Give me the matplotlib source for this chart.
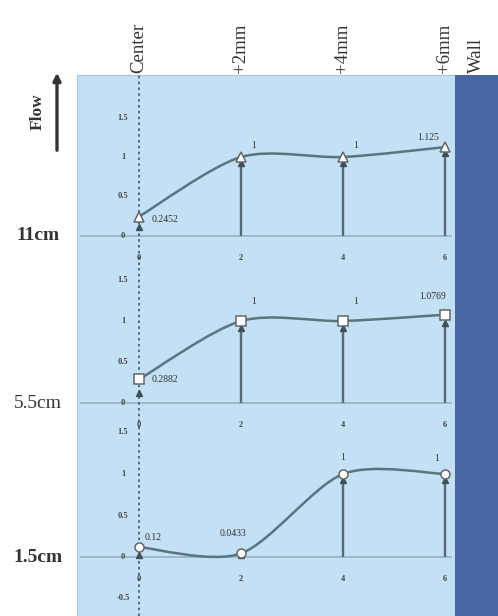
"""Normalised flow profiles across the channel at three heights."""

import matplotlib.pyplot as plt
from matplotlib.patches import Rectangle, PathPatch
from matplotlib.path import Path

# ─── data ───────────────────────────────────────────────────────────
positions = [0, 2, 4, 6]
pos_ticks = ["0", "2", "4", "6"]
top_labels = ["Center", "+2mm", "+4mm", "+6mm"]

heights = ["11cm", "5.5cm", "1.5cm"]
flow_11 = [0.2452, 1, 1, 1.125]
flow_55 = [0.2882, 1, 1, 1.0769]
flow_15 = [0.12, 0.0433, 1, 1]
flow_labels_11 = ["0.2452", "1", "1", "1.125"]
flow_labels_55 = ["0.2882", "1", "1", "1.0769"]
flow_labels_15 = ["0.12", "0.0433", "1", "1"]
# second (reference) series, drawn as dark markers
ref_11 = [0.12, 0.93, 0.93, 1.05]
ref_55 = [0.12, 0.92, 0.92, 0.97]
ref_15 = [0.02, 0.02, 0.93, 0.93]
y_ticks_upper = [0, 0.5, 1, 1.5]
y_ticks_lower = [-0.5, 0, 0.5, 1, 1.5]

# ─── style ──────────────────────────────────────────────────────────
W, H = 498, 616
PANEL_BG = "#c3e0f4"
WALL = "#4766a4"
CURVE = "#5b747f"
STEM = "#566a76"
DARK = "#3f4f58"
ZERO = "#98b2c3"
SERIF = "Liberation Serif"

plt.rcParams["font.family"] = SERIF


def smooth_path(xs, ys):
    """Catmull-Rom style cubic Bezier path through the points."""
    pts = list(zip(xs, ys))
    verts, codes = [pts[0]], [Path.MOVETO]
    n = len(pts)
    for i in range(n - 1):
        p0 = pts[max(i - 1, 0)]
        p1, p2 = pts[i], pts[i + 1]
        p3 = pts[min(i + 2, n - 1)]
        c1 = (p1[0] + (p2[0] - p0[0]) / 7, p1[1] + (p2[1] - p0[1]) / 7)
        c2 = (p2[0] - (p3[0] - p1[0]) / 7, p2[1] - (p3[1] - p1[1]) / 7)
        verts += [c1, c2, p2]
        codes += [Path.CURVE4] * 3
    return Path(verts, codes)


fig = plt.figure(figsize=(W / 100, H / 100), dpi=100)

# background canvas in pixel units
bg = fig.add_axes([0, 0, 1, 1])
bg.set_xlim(0, W)
bg.set_ylim(H, 0)
bg.axis("off")
bg.add_patch(Rectangle((77, 75), 378, H - 75, facecolor=PANEL_BG,
                       edgecolor="#aac6d8", lw=0.8))
bg.add_patch(Rectangle((455, 75), W - 455, H - 75, facecolor=WALL, lw=0))

# column headers
for px, lab in zip([139, 241, 343, 445], top_labels):
    bg.text(px, 73, lab, rotation=90, ha="center", va="bottom",
            fontsize=13.5, color="#333")
bg.text(476, 73, "Wall", rotation=90, ha="center", va="bottom",
        fontsize=13.5, color="#333")

# flow direction arrow
bg.annotate("", xy=(57, 70), xytext=(57, 153),
            arrowprops=dict(arrowstyle="-|>", color="#333", lw=2.4,
                            mutation_scale=11))
bg.text(38, 112, "Flow", rotation=90, ha="center", va="center",
        fontsize=12.5, fontweight="bold", color="#333")

# panels: (top px, bottom px, zero px, px per unit)
panels = [
    (75, 265, 236, 79),
    (265, 428, 403, 82),
    (428, H, 557, 83),
]
flows = [flow_11, flow_55, flow_15]
refs = [ref_11, ref_55, ref_15]
flow_texts = [flow_labels_11, flow_labels_55, flow_labels_15]
markers = ["^", "s", "o"]
stem_at = [[2, 4, 6], [2, 4, 6], [4, 6]]
yticks = [y_ticks_upper, y_ticks_upper, y_ticks_lower]
label_offsets = [
    [(9, -2, "left"), (9, 8, "center"), (9, 8, "center"), (-12, 7, "center")],
    [(9, 0, "left"), (9, 14, "center"), (9, 14, "center"), (-9, 13, "center")],
    [(4, 7, "left"), (-6, 14, "center"), (0, 12, "center"), (-6, 11, "center")],
]
height_bold = ["bold", "normal", "bold"]

x_left = (77 - 139) / 51
x_right = (455 - 139) / 51

for k, (top, bot, zero, ppu) in enumerate(panels):
    ax = fig.add_axes([77 / W, 1 - bot / H, 378 / W, (bot - top) / H])
    ax.set_xlim(x_left, x_right)
    ax.set_ylim(-(bot - zero) / ppu, (zero - top) / ppu)
    ax.axis("off")
    ax.patch.set_alpha(0)

    ax.axhline(0, xmin=0.01, xmax=0.99, color=ZERO, lw=1.2, zorder=1)
    ax.axvline(0, color="#3a5670", lw=1.2, ls=(0, (1.5, 2)), zorder=2)

    # stems up to the reference values
    sx = [x for x in positions if x in stem_at[k]]
    sy = [r for x, r in zip(positions, refs[k]) if x in stem_at[k]]
    ax.vlines(sx, 0, sy, color=STEM, lw=1.7, zorder=2)

    ax.add_patch(PathPatch(smooth_path(positions, flows[k]), facecolor="none",
                           edgecolor=CURVE, lw=1.8, zorder=3))

    ax.plot(positions, refs[k], ls="none", marker="^", ms=5,
            color=DARK, zorder=4)
    ax.plot(positions, flows[k], ls="none", marker=markers[k], ms=6.5,
            mfc="white", mec="#666", mew=1.1, zorder=5)

    for x, y, txt, (dx, dy, ha) in zip(positions, flows[k], flow_texts[k],
                                       label_offsets[k]):
        ax.annotate(txt, (x, y), xytext=(dx, dy), textcoords="offset points",
                    ha=ha, va="center", fontsize=7, color="#333", zorder=6)

    for y in yticks[k]:
        ax.annotate(f"{y:g}", (0, y), xytext=(-11.5, 0),
                    textcoords="offset points", ha="center", va="center",
                    fontsize=6, fontweight="bold", color="#444")
    for x, lab in zip(positions, pos_ticks):
        ax.annotate(lab, (x, 0), xytext=(0, -15.5), textcoords="offset points",
                    ha="center", va="center", fontsize=6, fontweight="bold",
                    color="#444")

    bg.text(38, zero, heights[k], ha="center", va="center", fontsize=14,
            fontweight=height_bold[k], color="#333")

fig.savefig("out.png", dpi=100)
